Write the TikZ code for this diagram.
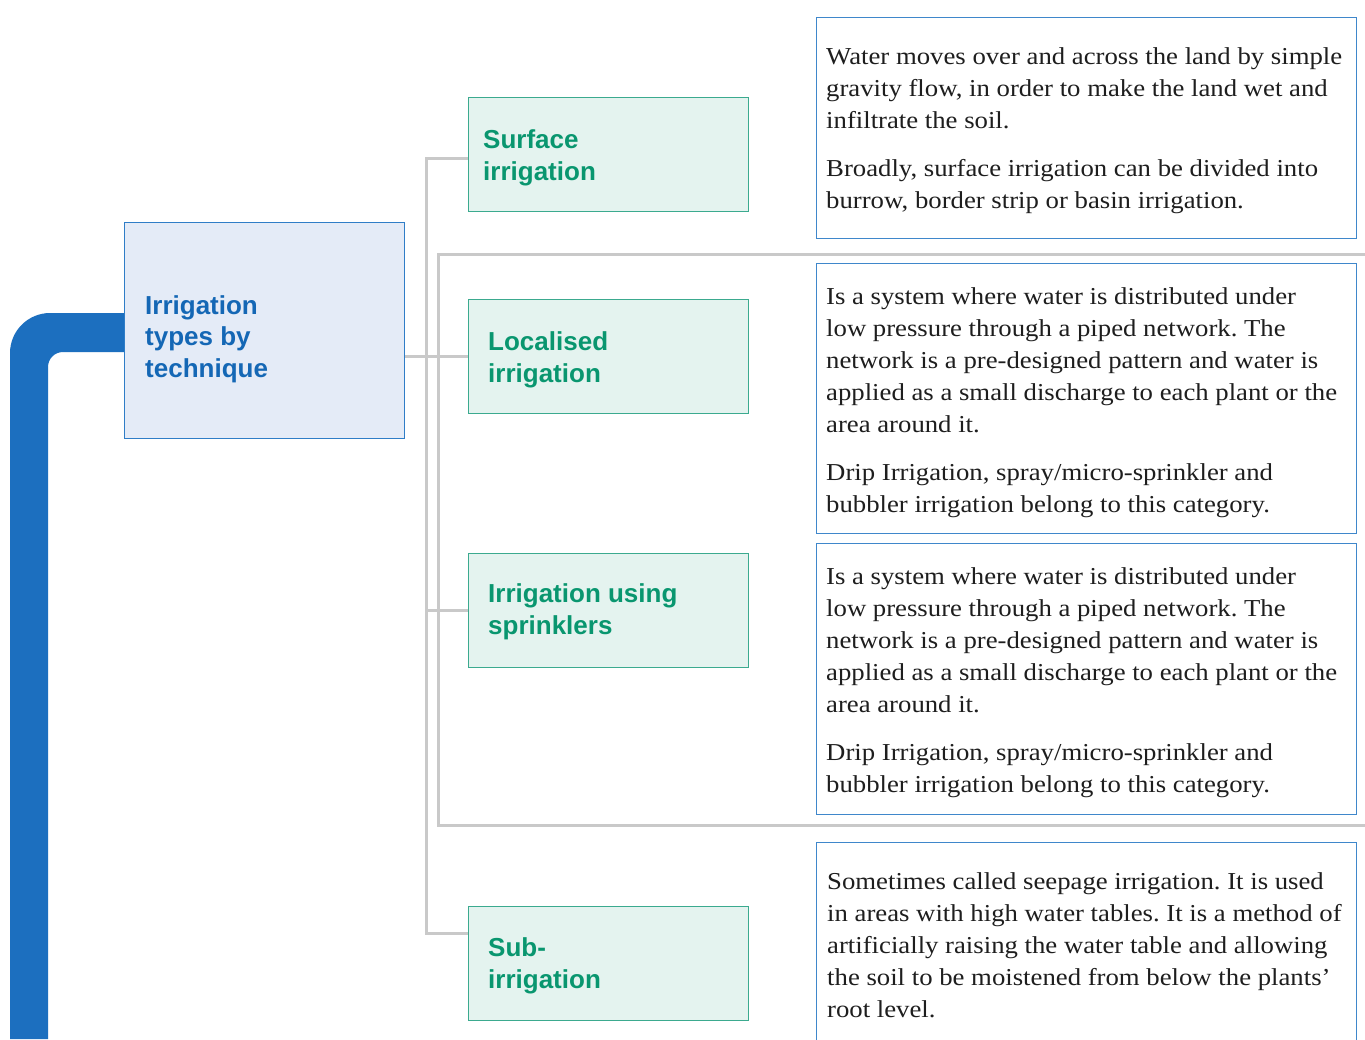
\documentclass[tikz,border=0pt]{standalone}
\usepackage{fontspec}
\newfontfamily\hdfont{Liberation Sans}
\newfontfamily\bodyfont{Liberation Serif}[FakeStretch=1.1]
\definecolor{bandblue}{HTML}{1C6FBF}
\definecolor{mainfill}{HTML}{E4EBF7}
\definecolor{mainline}{HTML}{2F7DC7}
\definecolor{maintext}{HTML}{1467B5}
\definecolor{grfill}{HTML}{E4F3EF}
\definecolor{grline}{HTML}{3BAA8F}
\definecolor{grtext}{HTML}{09966F}
\definecolor{conn}{HTML}{C9C9C9}
\definecolor{descline}{HTML}{3F87CB}
\definecolor{bodytext}{HTML}{1E1E1E}
\frenchspacing
\begin{document}
\begin{tikzpicture}[x=1pt,y=-1pt,
  mainbox/.style={draw=mainline,fill=mainfill,line width=1.2pt,minimum width=280pt,minimum height=216pt,inner sep=0pt,anchor=north west},
  typebox/.style={draw=grline,fill=grfill,line width=1.2pt,minimum width=280pt,minimum height=114pt,inner sep=0pt,anchor=north west},
  descbox/.style={draw=descline,fill=white,line width=1.2pt,minimum width=540pt,inner sep=0pt,anchor=north west},
  maintitle/.style={text=maintext,font={\hdfont\bfseries\fontsize{26}{31.5}\selectfont},align=left,inner sep=0pt,anchor=base west},
  typetitle/.style={text=grtext,font={\hdfont\bfseries\fontsize{26}{32}\selectfont},align=left,inner sep=0pt,anchor=base west},
  desctext/.style={text=bodytext,font={\bodyfont\frenchspacing\fontsize{24.3}{32}\selectfont},align=left,inner sep=0pt,anchor=base west},
  connline/.style={draw=conn,line width=3pt}]
\useasboundingbox[fill=white] (0,0) rectangle (1365,1039);

% blue band
\fill[bandblue] (10,1039) -- (10,353) .. controls (10,331) and (28,313) .. (50,313)
  -- (125,313) -- (125,352) -- (63,352) .. controls (54.7,352) and (48,358.7) .. (48,367)
  -- (48,1039) -- cycle;

% frame around localised and sprinklers
\coordinate (fTR) at (1365,254);
\coordinate (fTL) at (438,254);
\coordinate (fBL) at (438,825);
\coordinate (fBR) at (1365,825);
\draw[connline] (fTR) -- (fTL) -- (fBL) -- (fBR);

% main box
\node[mainbox] (main) at (124,222) {};
\node[maintitle] (maint) at (145,377) {Irrigation\\types by\\technique};

% type boxes
\node[typebox] (sur) at (468,97) {};
\node[typebox] (loc) at (468,299) {};
\node[typebox] (spr) at (468,553) {};
\node[typebox] (sub) at (468,906) {};
\node[typetitle] (surt) at (483,180) {Surface\\irrigation};
\node[typetitle] (loct) at (488,382) {Localised\\irrigation};
\node[typetitle] (sprt) at (488,634) {Irrigation using\\sprinklers};
\node[typetitle] (subt) at (488,988) {Sub-\\irrigation};

% connectors
\coordinate (tTop) at (426,158);
\coordinate (tBot) at (426,933);
\draw[connline] (sur.west |- tTop) -- (tTop) -- (tBot) -- (sub.west |- tBot);
\draw[connline] (main.east |- loc.west) -- (loc.west);
\draw[connline] (tTop |- spr.west) -- (spr.west);

% description boxes
\node[descbox,minimum height=221pt] (d1) at (816,17) {};
\node[descbox,minimum height=270pt] (d2) at (816,263) {};
\node[descbox,minimum height=271pt] (d3) at (816,543) {};
\node[descbox,minimum height=210pt] (d4) at (816,842) {};

\node[desctext] (d1t) at (826,208) {Water moves over and across the land by simple\\gravity flow, in order to make the land wet and\\infiltrate the soil.\\[16pt]Broadly, surface irrigation can be divided into\\burrow, border strip or basin irrigation.};
\node[desctext] (d2t) at (826,512) {Is a system where water is distributed under\\low pressure through a piped network. The\\network is a pre-designed pattern and water is\\applied as a small discharge to each plant or the\\area around it.\\[16pt]Drip Irrigation, spray/micro-sprinkler and\\bubbler irrigation belong to this category.};
\node[desctext] (d3t) at (826,792) {Is a system where water is distributed under\\low pressure through a piped network. The\\network is a pre-designed pattern and water is\\applied as a small discharge to each plant or the\\area around it.\\[16pt]Drip Irrigation, spray/micro-sprinkler and\\bubbler irrigation belong to this category.};
\node[desctext] (d4t) at (827,1017) {Sometimes called seepage irrigation. It is used\\in areas with high water tables. It is a method of\\artificially raising the water table and allowing\\the soil to be moistened from below the plants’\\root level.};
\end{tikzpicture}
\end{document}
